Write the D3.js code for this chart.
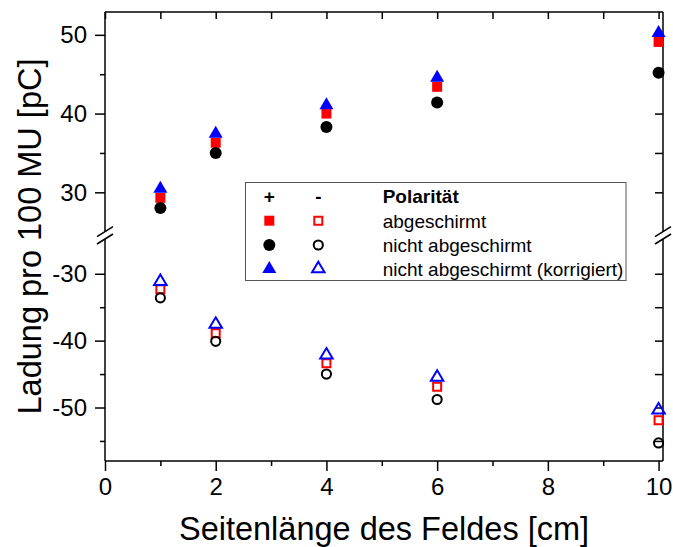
<!DOCTYPE html>
<html>
<head>
<meta charset="utf-8">
<script src="https://cdn.jsdelivr.net/npm/d3@7"></script>
<style>
  body { margin: 0; background: #fff; }
  svg { font-family: "Liberation Sans", Arial, sans-serif; }
</style>
</head>
<body>
<svg id="chart" width="673" height="547"></svg>
<script>
const fieldSizes = [1, 2, 4, 6, 10];
const posShielded = [29.3, 36.3, 40.0, 43.4, 49.1];
const posUnshielded = [28.0, 35.0, 38.3, 41.4, 45.2];
const posCorrected = [30.7, 37.7, 41.3, 44.8, 50.5];
const negShielded = [-32.3, -38.9, -43.4, -46.9, -51.9];
const negUnshielded = [-33.6, -40.1, -45.0, -48.8, -55.3];
const negCorrected = [-30.9, -37.3, -41.9, -45.2, -50.1];

const xTicks = [0, 2, 4, 6, 8, 10];
const xMinor = [1, 3, 5, 7, 9];
const yUpperTicks = [30, 40, 50];
const yUpperMinor = [35, 45];
const yLowerTicks = [-50, -40, -30];
const yLowerMinor = [-55, -45, -35];

const legendRows = ["abgeschirmt", "nicht abgeschirmt", "nicht abgeschirmt (korrigiert)"];

const plotLeft = 105, plotRight = 663, plotTop = 12, plotBottom = 461;
const breakUp = 231.7, breakLow = 239;

const svg = d3.select("#chart");

const x = d3.scaleLinear().domain([0, 10.08]).range([plotLeft, plotRight]);
const yUp = d3.scaleLinear().domain([25, 52.9]).range([breakUp, plotTop]);
const yLow = d3.scaleLinear().domain([-58, -24.8]).range([plotBottom, breakLow]);
const y = v => v >= 0 ? yUp(v) : yLow(v);

// axes
function styleAxis(g) {
    g.select(".domain").remove();
    g.selectAll("line").attr("stroke", "#000").attr("stroke-width", 1.5);
    g.selectAll("text").attr("font-size", 24).attr("fill", "#000")
        .attr("font-family", "Liberation Sans, Arial, sans-serif");
}

svg.append("g").attr("transform", `translate(0,${plotBottom})`)
    .call(d3.axisBottom(x).tickValues(xTicks).tickSize(10).tickPadding(7).tickFormat(d => String(d)))
    .call(styleAxis);
svg.append("g").attr("transform", `translate(0,${plotBottom})`)
    .call(d3.axisBottom(x).tickValues(xMinor).tickSize(5).tickFormat(""))
    .call(styleAxis);
svg.append("g").attr("transform", `translate(0,${plotTop})`)
    .call(d3.axisBottom(x).tickValues(xTicks.concat(xMinor)).tickSize(7).tickFormat(""))
    .call(styleAxis);

[[yUp, yUpperTicks, yUpperMinor], [yLow, yLowerTicks, yLowerMinor]].forEach(([sc, major, minor]) => {
    svg.append("g").attr("transform", `translate(${plotLeft},0)`)
        .call(d3.axisLeft(sc).tickValues(major).tickSize(10).tickPadding(8).tickFormat(d => String(d)))
        .call(styleAxis);
    svg.append("g").attr("transform", `translate(${plotLeft},0)`)
        .call(d3.axisLeft(sc).tickValues(minor).tickSize(5).tickFormat(""))
        .call(styleAxis);
    // right side: axisLeft points inward from the right frame
    svg.append("g").attr("transform", `translate(${plotRight},0)`)
        .call(d3.axisLeft(sc).tickValues(major.concat(minor)).tickSize(8).tickFormat(""))
        .call(styleAxis);
});

// frame with axis break
const frame = svg.append("g").attr("stroke", "#000").attr("stroke-width", 1.5).attr("fill", "none");
frame.append("line").attr("x1", plotLeft).attr("x2", plotRight).attr("y1", plotTop).attr("y2", plotTop);
frame.append("line").attr("x1", plotLeft).attr("x2", plotRight).attr("y1", plotBottom).attr("y2", plotBottom);
[plotLeft, plotRight].forEach(px => {
    frame.append("line").attr("x1", px).attr("x2", px).attr("y1", plotTop).attr("y2", breakUp);
    frame.append("line").attr("x1", px).attr("x2", px).attr("y1", breakLow).attr("y2", plotBottom);
    [breakUp, breakLow].forEach(py => {
        frame.append("line").attr("x1", px - 8).attr("y1", py + 5)
            .attr("x2", px + 8).attr("y2", py - 5);
    });
});

// markers
const triPath = (w, h) => `M0,${-h / 2}L${w / 2},${h / 2}L${-w / 2},${h / 2}Z`;

function styleMarker(sel, shape, color, filled) {
    if (shape === "square") sel.attr("d", filled ? "M-5,-5H5V5H-5Z" : "M-4,-4H4V4H-4Z");
    if (shape === "circle") sel.attr("d", d3.symbol(d3.symbolCircle, filled ? Math.PI * 36 : Math.PI * 21)());
    if (shape === "triangle") sel.attr("d", filled ? triPath(14, 12) : triPath(12.5, 10.5));
    if (filled) sel.attr("fill", color).attr("stroke", "none");
    else sel.attr("fill", "none").attr("stroke", color).attr("stroke-width", 2);
}

function drawSeries(values, shape, color, filled) {
    const pts = fieldSizes.map((f, i) => ({ f, v: values[i] }));
    const sel = svg.append("g").selectAll("path").data(pts).enter().append("path")
        .attr("transform", d => `translate(${x(d.f)},${y(d.v)})`);
    styleMarker(sel, shape, color, filled);
}

drawSeries(posShielded, "square", "#ff0000", true);
drawSeries(posUnshielded, "circle", "#000", true);
drawSeries(posCorrected, "triangle", "#0000ff", true);
drawSeries(negShielded, "square", "#ff0000", false);
drawSeries(negUnshielded, "circle", "#000", false);
drawSeries(negCorrected, "triangle", "#0000ff", false);

// legend
const leg = svg.append("g");
leg.append("rect").attr("x", 245.5).attr("y", 182.5).attr("width", 380.5).attr("height", 98)
    .attr("fill", "#fff").attr("stroke", "#555").attr("stroke-width", 1);
const rowY = [196.5, 220.7, 245, 267];
const textBase = [203.3, 227.6, 251.8, 276];
leg.append("text").attr("x", 269.3).attr("y", textBase[0]).attr("text-anchor", "middle")
    .attr("font-size", 19).attr("font-weight", "bold").text("+");
leg.append("text").attr("x", 318.3).attr("y", textBase[0]).attr("text-anchor", "middle")
    .attr("font-size", 19).attr("font-weight", "bold").text("-");
leg.append("text").attr("x", 382.7).attr("y", textBase[0])
    .attr("font-size", 19).attr("font-weight", "bold").text("Polarität");
const legShapes = [["square", "#ff0000"], ["circle", "#000"], ["triangle", "#0000ff"]];
legendRows.forEach((label, i) => {
    const [shape, color] = legShapes[i];
    styleMarker(leg.append("path").attr("transform", `translate(269.3,${rowY[i + 1]})`), shape, color, true);
    styleMarker(leg.append("path").attr("transform", `translate(318.3,${rowY[i + 1]})`), shape, color, false);
    leg.append("text").attr("x", 382.7).attr("y", textBase[i + 1]).attr("font-size", 19).text(label);
});

// titles
svg.append("text").attr("x", 384).attr("y", 540).attr("text-anchor", "middle")
    .attr("font-size", 32.5).text("Seitenlänge des Feldes [cm]");
svg.append("text").attr("transform", "translate(41,236.5) rotate(-90)").attr("text-anchor", "middle")
    .attr("font-size", 32.5).text("Ladung pro 100 MU [pC]");
</script>
</body>
</html>
